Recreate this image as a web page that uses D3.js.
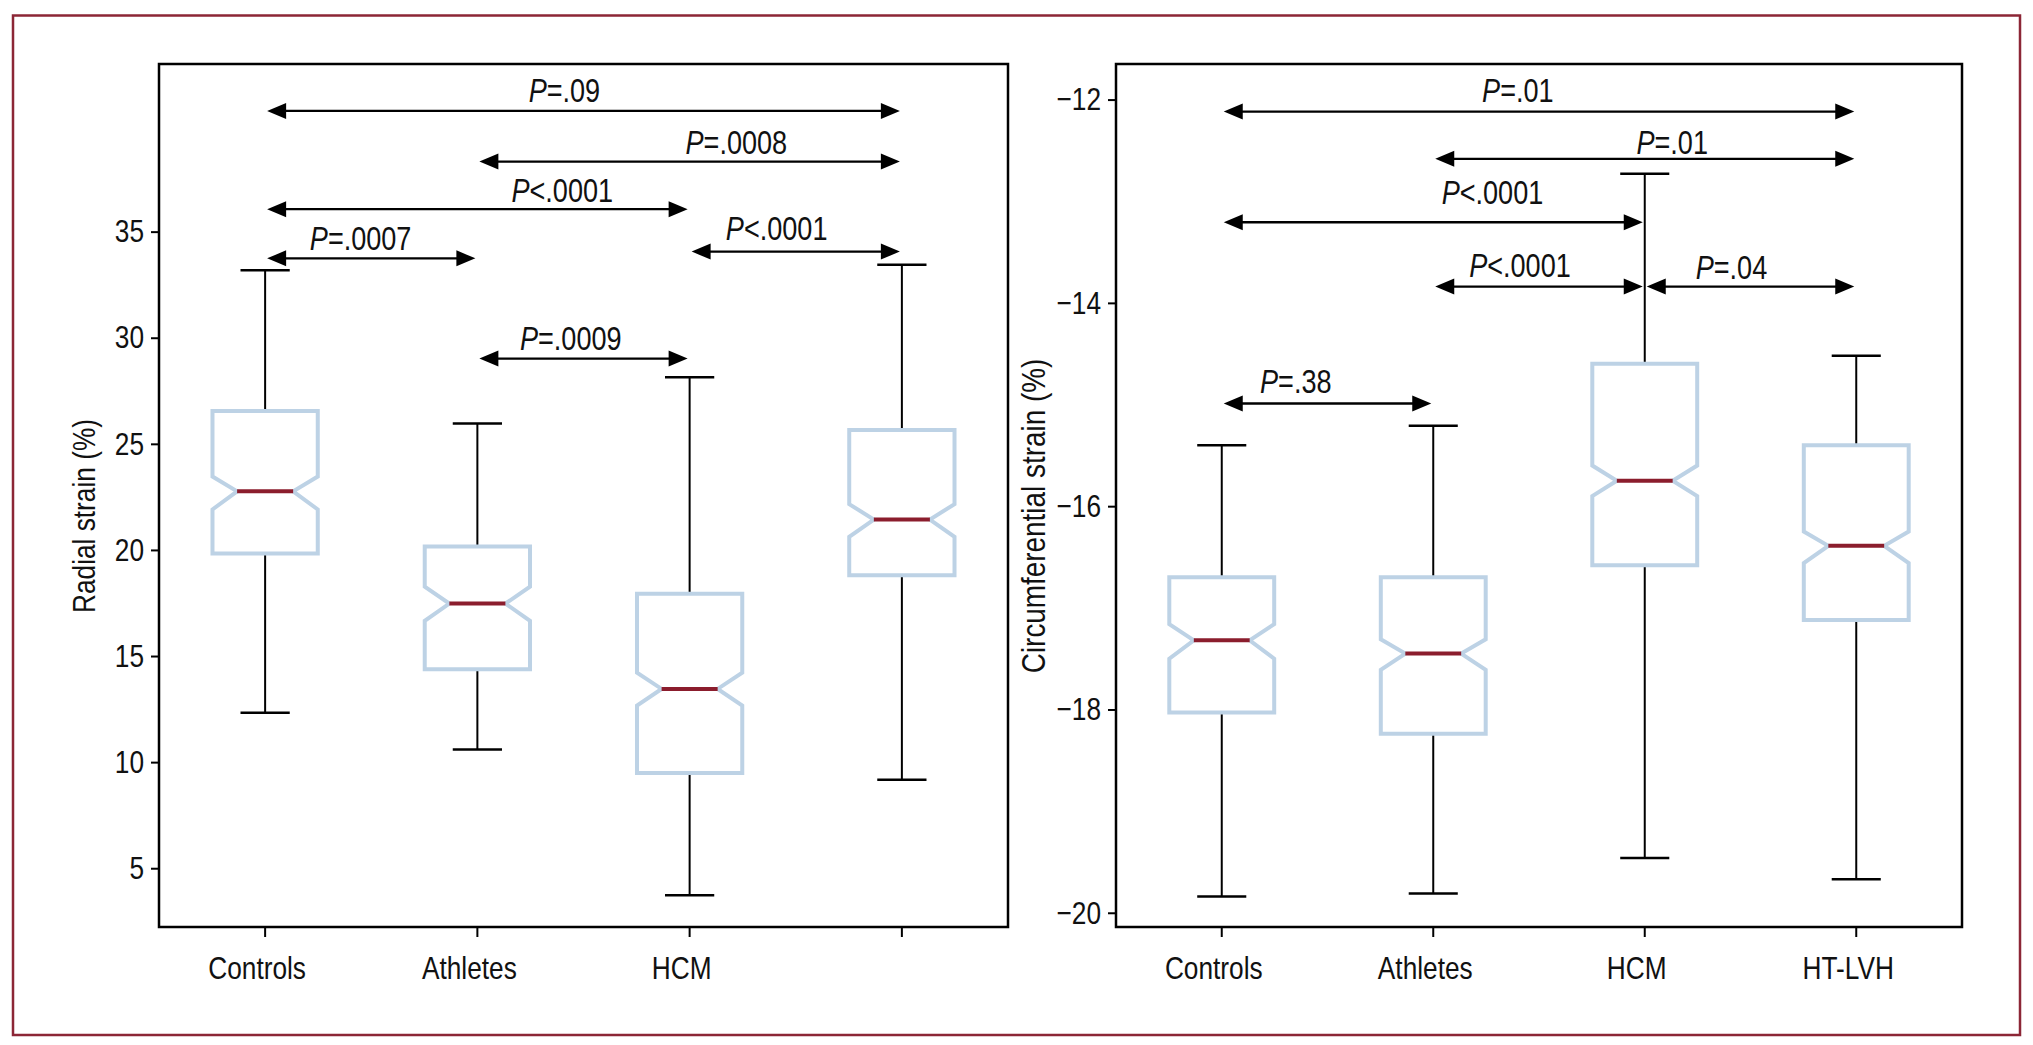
<!DOCTYPE html>
<html>
<head>
<meta charset="utf-8">
<script src="https://cdn.jsdelivr.net/npm/d3@7"></script>
<style>
  body { margin: 0; background: #fff; }
  svg text { font-family: "Liberation Sans Narrow", "Arial Narrow", "Liberation Sans", Arial, sans-serif; fill: #111; }
</style>
</head>
<body>
<svg id="chart" width="2033" height="1045"></svg>
<script>
// groups (the left panel leaves the 4th label blank, as in the figure)
const groups = ["Controls", "Athletes", "HCM", "HT-LVH"];
const radialLabels = ["Controls", "Athletes", "HCM", ""];
const circLabels = ["Controls", "Athletes", "HCM", "HT-LVH"];

// radial strain (%)
const radialMin = [12.33, 10.59, 3.73, 9.17];
const radialQ1 = [19.83, 14.38, 9.49, 18.81];
const radialNotchLo = [21.91, 16.66, 12.66, 20.62];
const radialMedian = [22.76, 17.47, 13.45, 21.43];
const radialNotchHi = [23.46, 18.27, 14.22, 22.16];
const radialQ3 = [26.55, 20.16, 17.94, 25.65];
const radialMax = [33.18, 25.96, 28.14, 33.44];
const radialTicks = [5, 10, 15, 20, 25, 30, 35];

// circumferential strain (%)
const circMin = [-19.84, -19.81, -19.46, -19.67];
const circQ1 = [-18.03, -18.24, -16.58, -17.12];
const circNotchLo = [-17.50, -17.61, -15.90, -16.56];
const circMedian = [-17.32, -17.45, -15.75, -16.39];
const circNotchHi = [-17.16, -17.31, -15.60, -16.25];
const circQ3 = [-16.70, -16.70, -14.60, -15.40];
const circMax = [-15.40, -15.21, -12.73, -14.52];
const circTicks = [-12, -14, -16, -18, -20];

// pairwise comparisons: group from/to, arrow height, p text, label place (group index, axis value)
const radialFrom = [0, 1, 0, 0, 2, 1];
const radialTo = [3, 3, 2, 1, 3, 2];
const radialAt = [40.69, 38.30, 36.06, 33.74, 34.06, 29.02];
const radialP = ["=.09", "=.0008", "<.0001", "=.0007", "<.0001", "=.0009"];
const radialLabelX = [1.41, 2.22, 1.40, 0.45, 2.41, 1.44];
const radialLabelY = [41.09, 38.65, 36.41, 34.14, 34.59, 29.43];

const circFrom = [0, 1, 0, 1, 2, 0];
const circTo = [3, 3, 2, 2, 3, 1];
const circAt = [-12.118, -12.583, -13.207, -13.84, -13.84, -14.99];
const circP = ["=.01", "=.01", "<.0001", "<.0001", "=.04", "=.38"];
const circLabelX = [1.40, 2.13, 1.28, 1.41, 2.41, 0.35];
const circLabelY = [-12.027, -12.535, -13.024, -13.745, -13.769, -14.891];

const plotTop = 64, plotBottom = 927;
const boxColor = "#bdd2e5", medianColor = "#8b1d2d";
const narrow = 0.82; // the figure uses a condensed face

const svg = d3.select("#chart");

// outer figure border
svg.append("rect")
    .attr("x", 13).attr("y", 15.5)
    .attr("width", 2007).attr("height", 1019.5)
    .attr("fill", "none")
    .attr("stroke", "#8c2636")
    .attr("stroke-width", 2.5);

function fmt(d) {
    return d < 0 ? "\u2212" + Math.abs(d) : String(d);
}

function drawPanel(cfg) {
    const g = svg.append("g");

    const x = d3.scaleBand().domain(d3.range(groups.length)).range([cfg.left, cfg.right]);
    const cx = i => x(i) + x.bandwidth() / 2;
    const xi = d3.scaleLinear().domain([0, groups.length - 1]).range([cx(0), cx(groups.length - 1)]);
    const y = d3.scaleLinear().domain(cfg.domain).range([plotBottom, plotTop]);

    const boxHalf = x.bandwidth() * 0.248;
    const notchHalf = x.bandwidth() * 0.132;
    const capHalf = x.bandwidth() * 0.116;

    const rows = groups.map((name, i) => ({
        i,
        min: cfg.min[i], q1: cfg.q1[i], nlo: cfg.nlo[i], med: cfg.med[i],
        nhi: cfg.nhi[i], q3: cfg.q3[i], max: cfg.max[i]
    }));

    // whiskers
    rows.forEach(d => {
        const c = cx(d.i);
        g.append("line").attr("x1", c).attr("x2", c).attr("y1", y(d.q3)).attr("y2", y(d.max))
            .attr("stroke", "#000").attr("stroke-width", 2);
        g.append("line").attr("x1", c).attr("x2", c).attr("y1", y(d.q1)).attr("y2", y(d.min))
            .attr("stroke", "#000").attr("stroke-width", 2);
        g.append("line").attr("x1", c - capHalf).attr("x2", c + capHalf).attr("y1", y(d.max)).attr("y2", y(d.max))
            .attr("stroke", "#000").attr("stroke-width", 2.5);
        g.append("line").attr("x1", c - capHalf).attr("x2", c + capHalf).attr("y1", y(d.min)).attr("y2", y(d.min))
            .attr("stroke", "#000").attr("stroke-width", 2.5);
    });

    // notched boxes
    g.selectAll("path.box")
        .data(rows)
        .enter()
        .append("path")
        .attr("class", "box")
        .attr("d", d => {
            const c = cx(d.i);
            const p = d3.path();
            p.moveTo(c - boxHalf, y(d.q3));
            p.lineTo(c + boxHalf, y(d.q3));
            p.lineTo(c + boxHalf, y(d.nhi));
            p.lineTo(c + notchHalf, y(d.med));
            p.lineTo(c + boxHalf, y(d.nlo));
            p.lineTo(c + boxHalf, y(d.q1));
            p.lineTo(c - boxHalf, y(d.q1));
            p.lineTo(c - boxHalf, y(d.nlo));
            p.lineTo(c - notchHalf, y(d.med));
            p.lineTo(c - boxHalf, y(d.nhi));
            p.closePath();
            return p.toString();
        })
        .attr("fill", "none")
        .attr("stroke", boxColor)
        .attr("stroke-width", 4);

    // medians
    g.selectAll("line.median")
        .data(rows)
        .enter()
        .append("line")
        .attr("class", "median")
        .attr("x1", d => cx(d.i) - notchHalf)
        .attr("x2", d => cx(d.i) + notchHalf)
        .attr("y1", d => y(d.med))
        .attr("y2", d => y(d.med))
        .attr("stroke", medianColor)
        .attr("stroke-width", 4);

    // comparison arrows
    cfg.from.forEach((f, k) => {
        const x1 = cx(f) + 2, x2 = cx(cfg.to[k]) - 2, yy = y(cfg.at[k]);
        g.append("line").attr("x1", x1 + 10).attr("x2", x2 - 10).attr("y1", yy).attr("y2", yy)
            .attr("stroke", "#000").attr("stroke-width", 2.3);
        g.append("path").attr("d", `M${x1},${yy}L${x1 + 19},${yy - 8}L${x1 + 19},${yy + 8}Z`).attr("fill", "#000");
        g.append("path").attr("d", `M${x2},${yy}L${x2 - 19},${yy - 8}L${x2 - 19},${yy + 8}Z`).attr("fill", "#000");

        const t = g.append("text")
            .attr("x", xi(cfg.labelX[k]))
            .attr("y", y(cfg.labelY[k]))
            .attr("text-anchor", "middle")
            .attr("font-size", 33);
        t.append("tspan").attr("font-style", "italic").text("P");
        t.append("tspan").text(cfg.p[k]);
    });

    // axes
    const yAxis = g.append("g")
        .attr("transform", `translate(${cfg.left},0)`)
        .call(d3.axisLeft(y).tickValues(cfg.ticks).tickSize(8).tickPadding(7).tickFormat(fmt));
    yAxis.attr("font-size", 32).attr("font-family", null);
    yAxis.select(".domain").remove();
    yAxis.selectAll(".tick line").attr("stroke", "#000").attr("stroke-width", 2);

    const xAxis = g.append("g")
        .attr("transform", `translate(0,${plotBottom})`)
        .call(d3.axisBottom(x).tickSize(10).tickPadding(19).tickFormat(i => cfg.labels[i]));
    xAxis.attr("font-size", 32).attr("font-family", null);
    xAxis.select(".domain").remove();
    xAxis.selectAll(".tick line").attr("stroke", "#000").attr("stroke-width", 2);
    xAxis.selectAll(".tick text").attr("dx", -8);

    // plot frame
    g.append("rect")
        .attr("x", cfg.left).attr("y", plotTop)
        .attr("width", cfg.right - cfg.left).attr("height", plotBottom - plotTop)
        .attr("fill", "none")
        .attr("stroke", "#000")
        .attr("stroke-width", 2.5);

    // y title
    g.append("text")
        .attr("transform", `translate(${cfg.titleX},516) rotate(-90)`)
        .attr("text-anchor", "middle")
        .attr("font-size", cfg.titleSize)
        .text(cfg.title);
}

drawPanel({
    left: 159, right: 1008,
    domain: [2.23, 42.9],
    ticks: radialTicks, labels: radialLabels,
    min: radialMin, q1: radialQ1, nlo: radialNotchLo, med: radialMedian,
    nhi: radialNotchHi, q3: radialQ3, max: radialMax,
    from: radialFrom, to: radialTo, at: radialAt, p: radialP,
    labelX: radialLabelX, labelY: radialLabelY,
    title: "Radial strain (%)", titleX: 95, titleSize: 32
});

drawPanel({
    left: 1116, right: 1962,
    domain: [-20.14, -11.65],
    ticks: circTicks, labels: circLabels,
    min: circMin, q1: circQ1, nlo: circNotchLo, med: circMedian,
    nhi: circNotchHi, q3: circQ3, max: circMax,
    from: circFrom, to: circTo, at: circAt, p: circP,
    labelX: circLabelX, labelY: circLabelY,
    title: "Circumferential strain (%)", titleX: 1045, titleSize: 34
});

// squeeze every label to a condensed width (no narrow face is installed)
svg.selectAll("text").each(function () {
    const w = this.getComputedTextLength();
    if (w > 0) {
        d3.select(this).attr("textLength", w * narrow).attr("lengthAdjust", "spacingAndGlyphs");
    }
});
</script>
</body>
</html>
